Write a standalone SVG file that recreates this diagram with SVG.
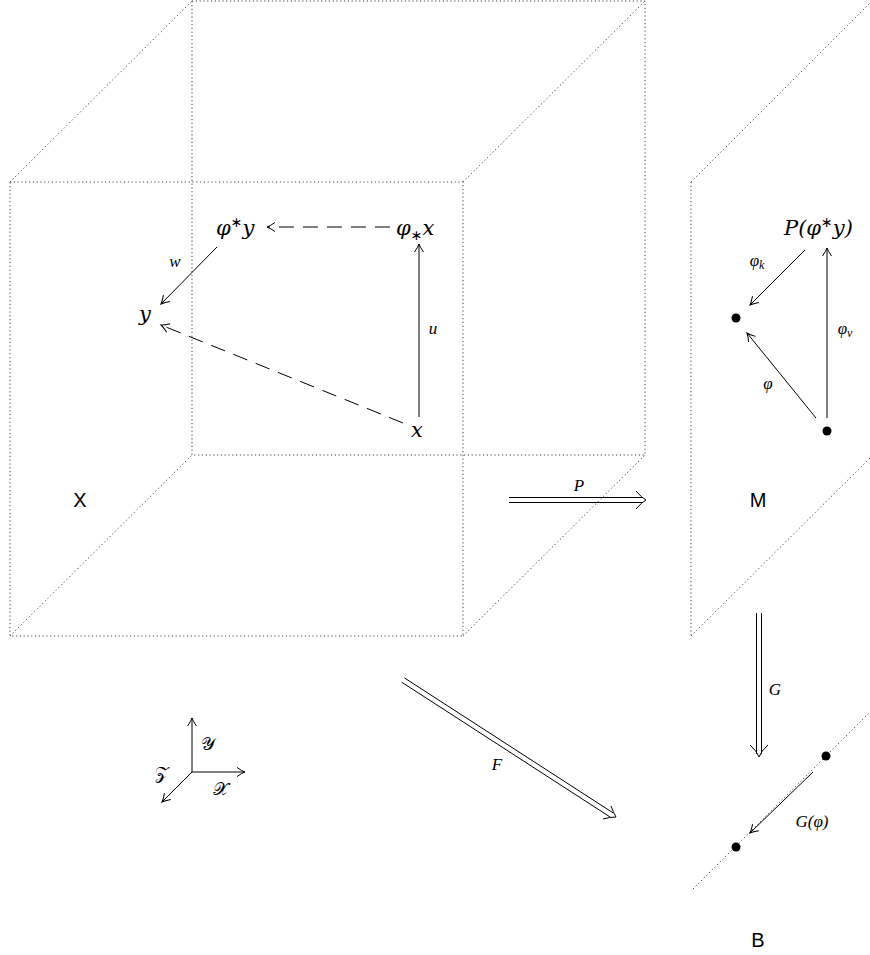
<svg xmlns="http://www.w3.org/2000/svg" width="870" height="955" viewBox="0 0 870 955">
<style>
.dot{fill:none;stroke:#444;stroke-width:1;stroke-dasharray:1.2 2.6}
.ln{fill:none;stroke:#000;stroke-width:1}
.dash{fill:none;stroke:#000;stroke-width:1;stroke-dasharray:15 9}
.m{font-family:"DejaVu Serif","Liberation Serif",serif;font-style:italic;font-size:21px;fill:#000}
.st{font-family:"DejaVu Sans",sans-serif;font-style:normal;font-size:14px}
.s{font-family:"Liberation Serif","DejaVu Serif",serif;font-style:italic;font-size:17px;fill:#000}
.cal{font-family:"DejaVu Serif","Noto Sans",serif;font-size:18px;fill:#000}
.lab{font-family:"Liberation Sans","DejaVu Sans",sans-serif;font-size:20px;fill:#000}
</style>
<defs>
<marker id="ah" markerUnits="userSpaceOnUse" markerWidth="16" markerHeight="16" refX="0" refY="0" viewBox="-10 -8 12 16" orient="auto" overflow="visible">
<path d="M-8,-4.5 Q-3,-1 0,0 Q-3,1 -8,4.5" fill="none" stroke="#000" stroke-width="1"/>
</marker>
</defs>
<g id="cube">
<rect class="dot" x="10" y="182" width="453" height="454"/>
<rect class="dot" x="192" y="1" width="453" height="454"/>
<path class="dot" d="M10,182 L192,1 M463,182 L645,1 M10,636 L192,455 M463,636 L645,455"/>
</g>
<g id="planeM">
<path class="dot" d="M691,182 L691,636 M691,182 L873,0 M691,636 L873,455"/>
</g>
<g id="lineB">
<path class="dot" d="M693,889 L870,712"/>
</g>
<g id="labels">
<text class="lab" x="80" y="507" text-anchor="middle">X</text>
<text class="lab" x="758" y="507" text-anchor="middle">M</text>
<text class="lab" x="758" y="947" text-anchor="middle">B</text>
</g>
<g id="n-phistar-y"><text class="m" x="216" y="235">φ<tspan class="st" dy="-8">∗</tspan><tspan dy="8">y</tspan></text></g>
<g id="n-phisub-x"><text class="m" x="396" y="235">φ<tspan class="st" dy="5">∗</tspan><tspan dy="-5">x</tspan></text></g>
<g id="n-y"><text class="m" x="139" y="321">y</text></g>
<g id="n-x"><text class="m" x="411" y="437">x</text></g>
<g id="n-P"><text class="m" x="784" y="235">P(φ<tspan class="st" dy="-8">∗</tspan><tspan dy="8">y)</tspan></text></g>
<g id="n-dot1"><circle cx="736" cy="318" r="4.5" fill="#000"/></g>
<g id="n-dot2"><circle cx="827" cy="431" r="4.5" fill="#000"/></g>
<g id="n-b1"><circle cx="826" cy="756" r="4.5" fill="#000"/></g>
<g id="n-b2"><circle cx="736" cy="847" r="4.5" fill="#000"/></g>
<g id="connectors">
<line class="dash" x1="390" y1="227" x2="267" y2="227" marker-end="url(#ah)"/>
<line class="ln" x1="217" y1="247" x2="161" y2="304" marker-end="url(#ah)"/>
<line class="dash" x1="403" y1="423" x2="161" y2="325" marker-end="url(#ah)"/>
<line class="ln" x1="419" y1="417" x2="419" y2="244" marker-end="url(#ah)"/>
<line class="ln" x1="805" y1="250" x2="750" y2="305" marker-end="url(#ah)"/>
<line class="ln" x1="827" y1="418" x2="827" y2="248" marker-end="url(#ah)"/>
<line class="ln" x1="816" y1="418" x2="747" y2="333" marker-end="url(#ah)"/>
<line class="ln" x1="813" y1="772" x2="750" y2="833" marker-end="url(#ah)"/>
<path class="ln" d="M509,497.5 L643,497.5 M509,502.5 L643,502.5"/>
<path class="ln" d="M636,491 Q642,498 646,500 Q642,502 636,509"/>
<path class="ln" d="M756.5,613 L756.5,754 M761.5,613 L761.5,754"/>
<path class="ln" d="M750,745 Q757,751 759,757 Q761,751 768,745"/>
<path class="ln" d="M401.6,682.1 L610.4,817.2 M404.4,677.9 L613.1,812.9"/>
<path class="ln" d="M603,819 Q610,817 616,817 Q613,812 611,806"/>
<line class="ln" x1="192" y1="772" x2="192" y2="718" marker-end="url(#ah)"/>
<line class="ln" x1="192" y1="772" x2="245" y2="772" marker-end="url(#ah)"/>
<line class="ln" x1="192" y1="772" x2="162" y2="802" marker-end="url(#ah)"/>
</g>
<g id="edge-labels">
<text class="s" x="175" y="267" text-anchor="middle">w</text>
<text class="s" x="433" y="334" text-anchor="middle">u</text>
<text class="s" x="757" y="266" text-anchor="middle">φ<tspan font-size="12" dy="3">k</tspan></text>
<text class="s" x="845" y="334" text-anchor="middle">φ<tspan font-size="12" dy="3">v</tspan></text>
<text class="s" x="768" y="389" text-anchor="middle">φ</text>
<text class="s" x="579" y="491" text-anchor="middle">P</text>
<text class="s" x="775" y="695" text-anchor="middle">G</text>
<text class="s" x="497" y="770" text-anchor="middle">F</text>
<text class="s" x="812" y="827" text-anchor="middle">G(φ)</text>
<text class="cal" x="208" y="750" text-anchor="middle">𝒴</text>
<text class="cal" x="162" y="779" text-anchor="middle">𝒵</text>
<text class="cal" x="220" y="795" text-anchor="middle">𝒳</text>
</g>
</svg>
